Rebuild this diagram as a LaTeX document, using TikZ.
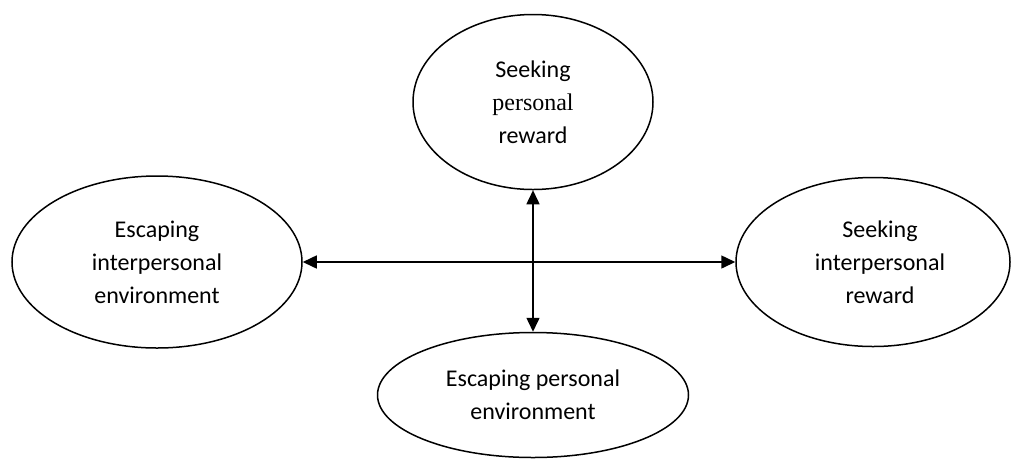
\documentclass[tikz,border=0pt]{standalone}
\usepackage{fontspec}
\setmainfont{Carlito}
\newfontfamily\timesfont{Liberation Serif}
\usetikzlibrary{shapes.geometric,arrows.meta}
\begin{document}
\begin{tikzpicture}[x=1pt,y=-1pt,
  bubble/.style={ellipse,draw,line width=1.5pt,inner sep=0pt,align=center,
    font=\fontsize{24}{33}\selectfont},
  link/.style={line width=1.5pt,
    {Triangle[length=14pt,width=13pt]}-{Triangle[length=14pt,width=13pt]}}]
\useasboundingbox (0,0) rectangle (1012,459);
\node[bubble,minimum width=240pt,minimum height=175pt] (t) at (533,102)
  {Seeking\\{\timesfont personal}\\reward};
\node[bubble,minimum width=290pt,minimum height=172pt] (l) at (157,262)
  {Escaping\\interpersonal\\environment};
\node[bubble,minimum width=274pt,minimum height=169pt] (r) at (873,262)
  {\hspace*{14pt}Seeking\\\hspace*{14pt}interpersonal\\\hspace*{14pt}reward};
\node[bubble,minimum width=311pt,minimum height=125pt] (b) at (533,395)
  {Escaping personal\\environment};
\draw[link] (l) -- (r);
\draw[link] (t) -- (b);
\end{tikzpicture}
\end{document}
